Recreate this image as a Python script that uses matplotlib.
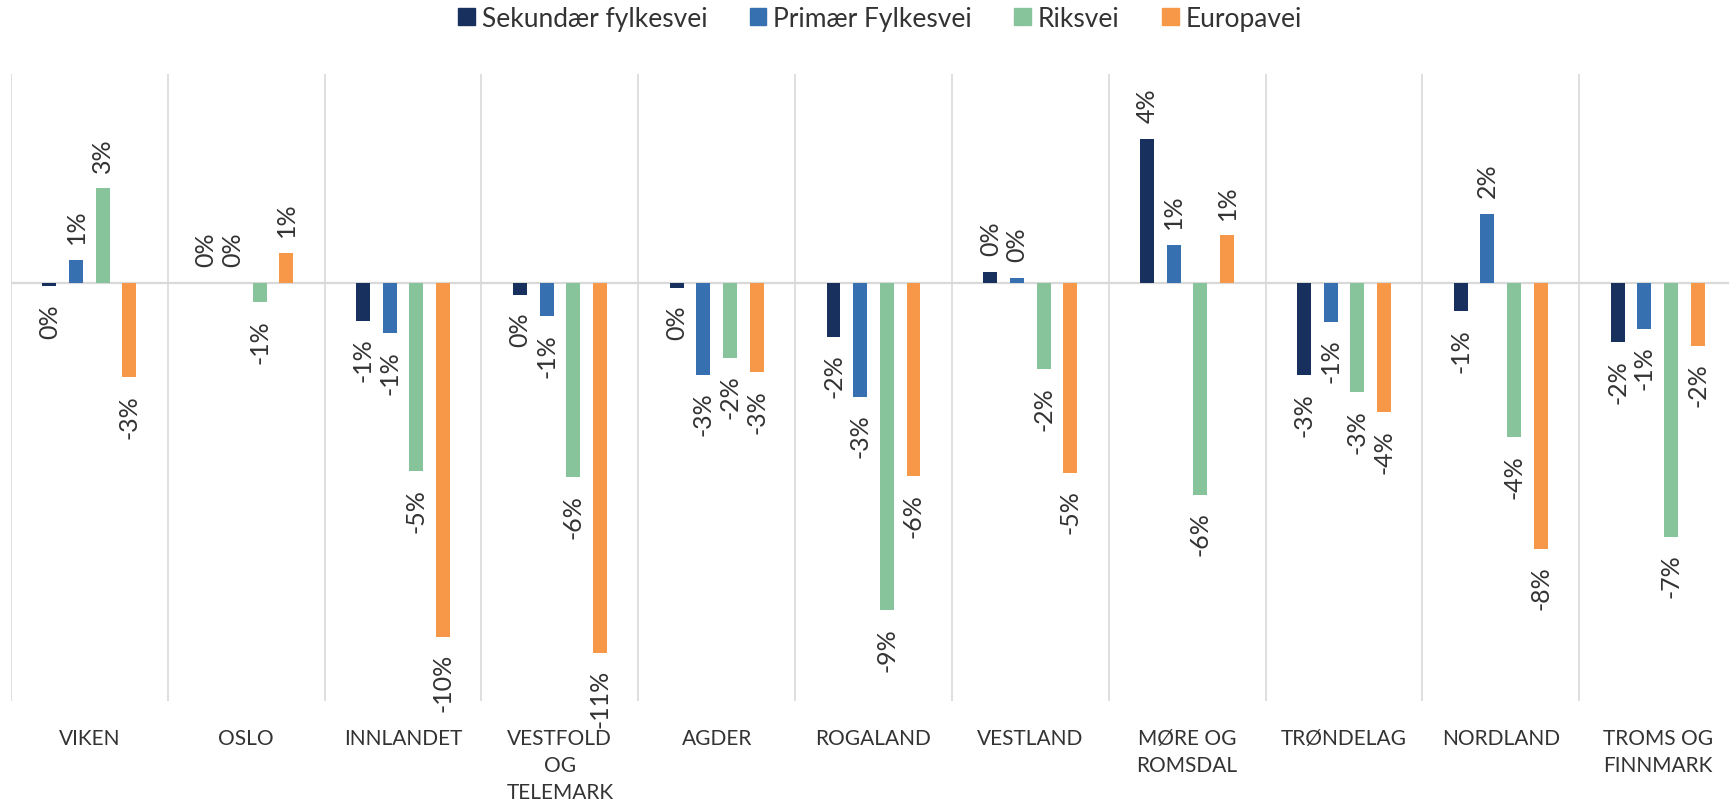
import numpy as np
import matplotlib
matplotlib.use('Agg')
import matplotlib.pyplot as plt
from matplotlib.patches import Patch

plt.rcParams['font.family'] = ['Lato', 'DejaVu Sans']

regions = ['VIKEN', 'OSLO', 'INNLANDET', 'VESTFOLD\nOG\nTELEMARK', 'AGDER', 'ROGALAND',
           'VESTLAND', 'MØRE OG\nROMSDAL', 'TRØNDELAG', 'NORDLAND', 'TROMS OG\nFINNMARK']

# change in percent
sekundaer = [-0.10, 0.00, -1.09, -0.34, -0.14, -1.54, 0.32, 4.15, -2.65, -0.81, -1.70]
primaer = [0.67, 0.00, -1.45, -0.96, -2.64, -3.27, 0.15, 1.09, -1.11, 1.99, -1.32]
riksvei = [2.72, -0.55, -5.41, -5.58, -2.15, -9.40, -2.48, -6.09, -3.14, -4.43, -7.29]
europavei = [-2.71, 0.87, -10.16, -10.62, -2.57, -5.56, -5.45, 1.37, -3.71, -7.63, -1.80]

series = ['Sekundær fylkesvei', 'Primær Fylkesvei', 'Riksvei', 'Europavei']
colors = ['#18305e', '#3670b0', '#88c49b', '#f79748']

fig = plt.figure(figsize=(17.29, 8.04), dpi=100)
ax = fig.add_axes([11 / 1729, 1 - 701.6 / 804, 1725 / 1729, 626.4 / 804])

x = np.arange(len(regions))
step = 0.170
width = 0.089
text_color = '#333333'

for j, vals in enumerate([sekundaer, primaer, riksvei, europavei]):
    xs = x + (j - 1.5) * step
    ax.bar(xs, vals, width=width, color=colors[j], zorder=3)
    for xi, v in zip(xs, vals):
        lbl = '%d%%' % int(round(v))
        if v >= 0:
            ax.annotate(lbl, (xi, v), xytext=(0, 12), textcoords='offset points',
                        rotation=90, ha='center', va='bottom', fontsize=18, color=text_color)
        else:
            ax.annotate(lbl, (xi, v), xytext=(0, -12), textcoords='offset points',
                        rotation=90, ha='center', va='top', fontsize=18, color=text_color)

ax.vlines(np.arange(len(regions) + 1) - 0.5, -12, 6, color='#d9d9d9', lw=1.2, zorder=1)
ax.axhline(0, color='#d9d9d9', lw=1.6, zorder=2)

ax.set_xlim(-0.5, len(regions) - 0.5)
ax.set_ylim(-12, 6)
ax.set_yticks([])
ax.set_xticks(x)
ax.set_xticklabels(regions, fontsize=15, color=text_color, linespacing=1.42)
ax.tick_params(axis='x', length=0, pad=20)
for s in ax.spines.values():
    s.set_visible(False)

handles = [Patch(color=c, label=l) for c, l in zip(colors, series)]
fig.legend(handles=handles, loc='center', bbox_to_anchor=(0.509, 0.976), ncol=4,
           frameon=False, fontsize=19, handlelength=0.63, handleheight=0.63,
           handletextpad=0.27, columnspacing=1.6, labelcolor=text_color)

fig.savefig('out.png', dpi=100)
